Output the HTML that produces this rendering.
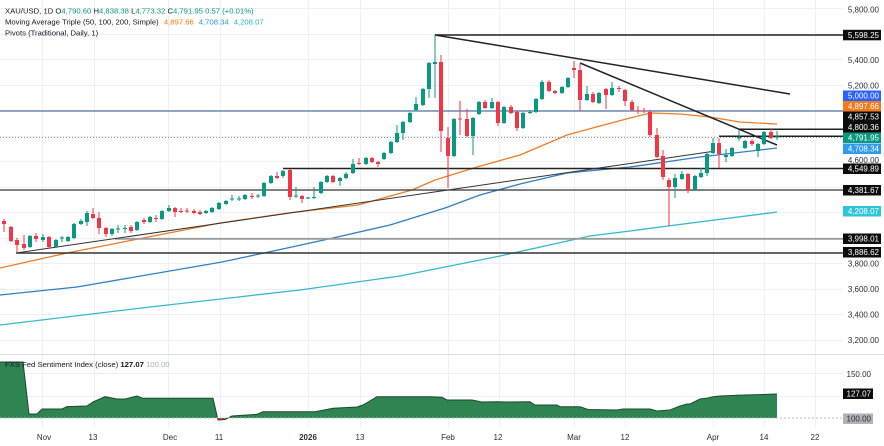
<!DOCTYPE html>
<html><head><meta charset="utf-8">
<style>
html,body{margin:0;padding:0;background:#fff;}
svg{display:block;}
text{font-family:"Liberation Sans",sans-serif;}
</style></head>
<body>
<svg width="884" height="446" viewBox="0 0 884 446" xmlns="http://www.w3.org/2000/svg">
<rect width="884" height="446" fill="#fff"/>
<!-- grid -->
<g stroke="#eef0f4" stroke-width="1" fill="none">
<path d="M0 8.5H843M0 34.5H843M0 59.5H843M0 85.5H843M0 110.5H843M0 136.5H843M0 161.5H843M0 187.5H843M0 212.5H843M0 238.5H843M0 263.5H843M0 289.5H843M0 314.5H843M0 340.5H843M0 373.5H843M0 396.5H843"/>
<path d="M42.5 0V428M94.5 0V428M168.5 0V428M220.5 0V428M308.5 0V428M360.5 0V428M448.5 0V428M499.5 0V428M574.5 0V428M625.5 0V428M713.5 0V428M764.5 0V428M815.5 0V428"/>
</g>
<line x1="0" y1="354.5" x2="884" y2="354.5" stroke="#d9dce3" stroke-width="1"/>

<!-- moving averages -->
<polyline fill="none" stroke="#35b8cf" stroke-width="1.3" stroke-linejoin="round" points="0,325 150,307 300,290 400,276 500,256 590,236 630,231 668,226 777,212"/>
<polyline fill="none" stroke="#2f7fc6" stroke-width="1.3" stroke-linejoin="round" points="0,295 77,287 222,262 278,250 333,238 390,225 445,208 480,195 520,184 567,173 630,167 700,157 777,148"/>
<polyline fill="none" stroke="#ef7d22" stroke-width="1.3" stroke-linejoin="round" points="0,268 67,253 133,240 220,223 288,213 358,205 412,190 435,180 477,167 520,155 567,135 600,126 630,118 650,113 680,114 710,117 740,122 777,124"/>

<!-- horizontal levels -->
<line x1="0" y1="111" x2="843" y2="111" stroke="#4f73a3" stroke-width="1.3"/>
<line x1="0" y1="137.5" x2="843" y2="137.5" stroke="#8a8f99" stroke-width="1" stroke-dasharray="1,2"/>
<line x1="435" y1="35" x2="843" y2="35" stroke="#222" stroke-width="1.6"/>
<line x1="739" y1="129.3" x2="843" y2="129.3" stroke="#222" stroke-width="1.5"/>
<line x1="719" y1="136.3" x2="843" y2="136.3" stroke="#222" stroke-width="1.5"/>
<line x1="283" y1="168.5" x2="843" y2="168.5" stroke="#222" stroke-width="1.6"/>
<line x1="0" y1="190" x2="843" y2="190" stroke="#333" stroke-width="1.3"/>
<line x1="115" y1="238.8" x2="843" y2="238.8" stroke="#9a9a9a" stroke-width="1.8"/>
<line x1="16" y1="253" x2="843" y2="253" stroke="#333" stroke-width="1.4"/>

<!-- trend lines -->
<line x1="16" y1="253" x2="712" y2="151.5" stroke="#333" stroke-width="1"/>
<line x1="435" y1="35" x2="790" y2="94" stroke="#222" stroke-width="1.5"/>
<line x1="580" y1="63" x2="777" y2="145" stroke="#222" stroke-width="1.5"/>

<!-- candles -->
<g id="cd"></g>

<!-- sentiment panel -->
<defs>
<clipPath id="above"><rect x="0" y="340" width="884" height="78"/></clipPath>
<clipPath id="below"><rect x="0" y="418" width="884" height="20"/></clipPath>
</defs>
<g id="sent"></g>
<line x1="0" y1="418" x2="843" y2="418" stroke="#b8bcc4" stroke-width="1" stroke-dasharray="2,2"/>

<!-- legends -->
<text x="5" y="13.5" font-size="7.7" fill="#131722">XAU/USD, 1D  O<tspan fill="#089981">4,790.60</tspan>  H<tspan fill="#089981">4,838.38</tspan>  L<tspan fill="#089981">4,773.32</tspan>  C<tspan fill="#089981">4,791.95</tspan>  <tspan fill="#089981">0.57 (+0.01%)</tspan></text>
<text x="5" y="24.5" font-size="7.7" fill="#131722">Moving Average Triple (50, 100, 200, Simple) <tspan fill="#f57c00" dx="3">4,897.66</tspan><tspan fill="#2196f3" dx="5">4,708.34</tspan><tspan fill="#26b5cc" dx="5">4,208.07</tspan></text>
<text x="5" y="35.5" font-size="7.7" fill="#131722">Pivots (Traditional, Daily, 1)</text>
<text x="5" y="367" font-size="7.7" fill="#131722">FXS Fed Sentiment Index (close)  <tspan font-weight="bold">127.07</tspan>  <tspan fill="#aab0ba">100.00</tspan></text>

<!-- right axis text -->
<g font-size="8" fill="#2a2e39" text-anchor="end">
<text x="879" y="12.5">5,800.00</text>
<text x="879" y="63">5,400.00</text>
<text x="879" y="88.5">5,200.00</text>
<text x="879" y="163">4,600.00</text>
<text x="879" y="266.5">3,800.00</text>
<text x="879" y="292">3,600.00</text>
<text x="879" y="317.5">3,400.00</text>
<text x="879" y="343">3,200.00</text>
<text x="871" y="377">150.00</text>
</g>

<!-- right axis boxes -->
<g font-size="8" text-anchor="end">
<rect x="843" y="29.8" width="38" height="10.5" fill="#0c0c0c"/><text x="879" y="38" fill="#fff">5,598.25</text>
<rect x="843" y="90.5" width="38" height="10.5" fill="#2962ff"/><text x="879" y="98.7" fill="#fff">5,000.00</text>
<rect x="843" y="101" width="38" height="10.5" fill="#f47a1f"/><text x="879" y="109.2" fill="#fff">4,897.66</text>
<rect x="843" y="111.5" width="38" height="10.5" fill="#0c0c0c"/><text x="879" y="119.7" fill="#fff">4,857.53</text>
<rect x="843" y="122" width="38" height="10.5" fill="#0c0c0c"/><text x="879" y="130.2" fill="#fff">4,800.36</text>
<rect x="843" y="132.5" width="38" height="10.5" fill="#089981"/><text x="879" y="140.7" fill="#fff">4,791.95</text>
<rect x="843" y="143.5" width="38" height="10.5" fill="#2e9af0"/><text x="879" y="151.7" fill="#fff">4,708.34</text>
<rect x="843" y="163.5" width="38" height="10.5" fill="#0c0c0c"/><text x="879" y="171.7" fill="#fff">4,549.89</text>
<rect x="843" y="185" width="38" height="10.5" fill="#0c0c0c"/><text x="879" y="193.2" fill="#fff">4,381.67</text>
<rect x="843" y="206" width="38" height="10.5" fill="#2ec4d9"/><text x="879" y="214.2" fill="#fff">4,208.07</text>
<rect x="843" y="233.5" width="38" height="10.5" fill="#0c0c0c"/><text x="879" y="241.7" fill="#fff">3,998.01</text>
<rect x="843" y="247" width="38" height="10.5" fill="#0c0c0c"/><text x="879" y="255.2" fill="#fff">3,886.62</text>
<rect x="843" y="388.5" width="30" height="10.5" fill="#0c0c0c"/><text x="871" y="396.7" fill="#fff">127.07</text>
<rect x="843" y="413.5" width="30" height="10.5" fill="#b0b2b8"/><text x="871" y="421.7" fill="#2a2e39">100.00</text>
</g>

<!-- time axis -->
<g font-size="8" fill="#2a2e39" text-anchor="middle">
<text x="44" y="440">Nov</text>
<text x="93" y="440">13</text>
<text x="170" y="440">Dec</text>
<text x="219" y="440">11</text>
<text x="308" y="440" font-weight="bold">2026</text>
<text x="360" y="440">13</text>
<text x="448" y="440">Feb</text>
<text x="498" y="440">12</text>
<text x="574" y="440">Mar</text>
<text x="625" y="440">12</text>
<text x="713" y="440">Apr</text>
<text x="764" y="440">14</text>
<text x="815" y="440">22</text>
</g>
</svg>
<script>
var D=[[4,221,224,219,232],[11,227,241,226,242],[17,240,245,238,253],[24,244,248,235,250],[30,247,236,235,248],[36,236,239,233,242],[43,240,237,234,242],[49,237,247,236,248],[56,247,240,239,248],[62,238.5,237.5,236,242],[68,241,237,236,242],[74,238,224,223,239],[81,224,221,219,225],[87,222,213,211,226],[93,214,218,208,219],[99,218,228,212,234],[106,228,234,227,237],[112,234,229,228,236],[118,229.5,228.5,225,233],[125,229,228,225,233],[131,227,231,225,233],[137,230,222,221,231],[144,220,222,218,224],[150,222,217,216,223],[156,218,219,215,222],[162,219,211,210,220],[169,211,208,205,212],[175,208,212,207,217],[181,211,212,208,213],[187,210.5,211.5,208,213],[194,211,213,209,214],[200,212,214,210,215],[206,213,211,210,214],[212,212,208,207,213],[219,209,203,202,210],
[226,204,201,200,205],[232,199.5,198.5,195,201],[239,199.5,198.5,196,201],[245,199,195,194,200],[252,196,197,193,199],[258,196.5,195.5,194,198],[264,196,183,182,197],[271,183,176,175,184],[277,176,178,172,179],[283,176,171,170,178],[290,170,197,169,200],[296,196.5,195.5,187,198],[302,196,199,195,203],[308,198.5,197.5,197,199],[314,198,197,187,199],[321,193,182,181,194],[327,182,176,175,183],[333,176,182,175,183],[340,181,178,177,186],[346,178,174,172,179],[353,173,164,159,174],[359,163,164,158,165],[366,164,158,157,165],[372,158,162,157,163],[378,162,164,161,167],[384,159,153,152,160],[391,153,142,141,154],[397,142,133,125,143],[403,133,122,121,140],[410,122,113,112,123],[416,110,104,97,111],[423,105,89,88,106],[429,89,63,62,98],[435,64,62,35,98],[441,62,131,55,152],[448,138,156,127,188],[454,156,119,118,157],[460,118.5,119.5,101,135],[467,119,136,109,137],[473,136,118,117,155],[479,114,102,101,115],[485,102,108,100,109],[492,108,102,98,109],[498,102,123,101,126],[504,123,107,106,124],[511,107,113,105,114],[517,112,128,111,131],[523,128,113,112,129],[530,113,112,110,114],[536,112,99,98,113],[542,99,82,80,100],[549,82,91,80,92],[555,91,93,90,94],[562,93,87,86,94],[568,87,78,77,88],[574,68,70,61,78],[580,70,100,63,111],[587,100,94,86,101],[593,94,102,92,103],[599,103,93,92,104],[606,89,95,88,109],[612,95,88,82,96],[619,88,89,86,92],[625,90,101,89,106],[632,102,110,100,111],[638,110.5,111.5,106,114],[644,110.5,111.5,108,113],[650,112,135,110,137],[657,135,157,128,158],[663,156,177,150,180],[669,180,187,178,226],[675,187,178,174,198],[682,179,174,171,180],[688,174,190,173,193],[695,190,176,175,191],[701,177,173,168,178],[707,173,154,153,176],[713,153,143,138,154],[719,143,154,138,168],[726,157,155,149,162],[732,156,148,147,157],[739,138.5,137,130,141],[745,148,141,140,149],[752,141,144,139,146],[758,151,144,143,157],[764,144,132,131,145],[771,132,138,129,139],[777,137.5,136.5,131,140]];
var s='';
for(var i=0;i<D.length;i++){var d=D[i],x=d[0],o=d[1],c=d[2],h=d[3],l=d[4];var col=c<o?'#089981':'#f23645';var t=Math.min(o,c),b=Math.max(o,c);
s+='<rect x="'+(x-0.5)+'" y="'+h+'" width="1" height="'+(l-h)+'" fill="'+col+'"/><rect x="'+(x-2)+'" y="'+t+'" width="4" height="'+Math.max(1,b-t)+'" fill="'+col+'"/>';}
document.getElementById('cd').innerHTML=s;
var P=[[0,362],[23,362],[29,414],[37,414],[42,409],[62,409],[67,406.6],[87,406],[93,402],[105,396.7],[117,399],[125,399],[137,396],[143,398.3],[213,398.3],[218,420],[225,419.5],[232,416],[247,415],[257,414.3],[263,411.7],[315,411.7],[333,408.3],[357,407],[363,405],[377,396.7],[430,396.7],[442,397.3],[447,400],[472,400],[482,402],[497,401.7],[507,402],[530,401.7],[535,405],[557,405],[560,406.7],[580,406.7],[588,409.5],[617,410],[623,409],[650,409],[657,411],[670,410],[680,406],[687,404],[690,404],[700,399],[708,398],[713,396.7],[720,396],[737,395.3],[777,394]];
var pts=P.map(function(p){return p[0]+','+p[1];}).join(' ');
var area='M0,418 L'+pts.replace(/ /g,' L')+' L777,418 Z';
var g='<path d="'+area+'" fill="#2e8552" clip-path="url(#above)"/>'+
'<path d="'+area+'" fill="#d9252f" clip-path="url(#below)"/>'+
'<polyline points="'+pts+'" fill="none" stroke="#1c4a2c" stroke-width="1"/>';
document.getElementById('sent').innerHTML=g;
</script>
</body></html>
